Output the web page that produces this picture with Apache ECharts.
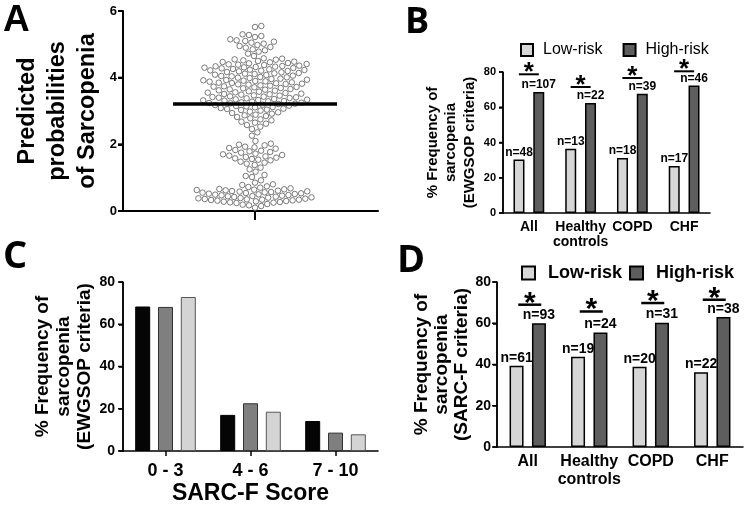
<!DOCTYPE html>
<html>
<head>
<meta charset="utf-8">
<script src="https://cdn.jsdelivr.net/npm/echarts@6.0.0/dist/echarts.min.js"></script>
<style>
  html, body { margin: 0; padding: 0; background: #fff; }
  #container { width: 749px; height: 506px; }
</style>
</head>
<body>
<div id="container"></div>
<script>
var FONT = 'Liberation Sans, Arial, sans-serif';
var LETTER_FONT = 'Open Sans, Liberation Sans, sans-serif';

// panel A: predicted probability of each subject (one dot each)
var probValues = [
  5.55, 5.52,
  5.30, 5.28, 5.25, 5.22,
  5.15, 5.12, 5.10, 5.08, 5.05, 5.02,
  4.98, 4.95, 4.92, 4.90,
  4.85, 4.82, 4.78, 4.72, 4.65,
  4.58, 4.57, 4.55, 4.54, 4.52,
  4.50, 4.48, 4.47, 4.46, 4.44, 4.43, 4.41,
  4.40, 4.39, 4.38, 4.36, 4.35, 4.34, 4.33, 4.32, 4.31,
  4.30, 4.29, 4.28, 4.26, 4.25, 4.24, 4.23, 4.22, 4.21,
  4.20, 4.19, 4.17, 4.16, 4.14, 4.13, 4.12, 4.11,
  4.09, 4.08, 4.06, 4.05, 4.04, 4.02, 4.01,
  4.00, 3.99, 3.97, 3.96, 3.94, 3.93, 3.92, 3.91,
  3.90, 3.89, 3.88, 3.86, 3.85, 3.84, 3.83, 3.82, 3.81,
  3.80, 3.79, 3.77, 3.76, 3.74, 3.73, 3.72, 3.71,
  3.69, 3.68, 3.66, 3.65, 3.64, 3.62, 3.61,
  3.59, 3.58, 3.56, 3.55, 3.54, 3.52, 3.51,
  3.50, 3.49, 3.47, 3.46, 3.44, 3.43, 3.42, 3.41,
  3.40, 3.39, 3.38, 3.36, 3.35, 3.34, 3.33, 3.32, 3.31,
  3.30, 3.29, 3.28, 3.26, 3.25, 3.24, 3.23, 3.22, 3.21,
  3.19, 3.18, 3.16, 3.15, 3.14, 3.12, 3.11,
  3.09, 3.07, 3.06, 3.04, 3.03, 3.01,
  2.98, 2.96, 2.94, 2.92,
  2.89, 2.87, 2.85, 2.82,
  2.78, 2.75, 2.72,
  2.68, 2.65, 2.62,
  2.58, 2.53, 2.46, 2.36, 2.26,
  2.10, 2.02, 1.99, 1.97, 1.93, 1.91, 1.89, 1.87, 1.83, 1.81, 1.79, 1.77,
  1.75, 1.72, 1.70, 1.68, 1.66, 1.64, 1.62, 1.60, 1.58, 1.56, 1.54, 1.52,
  1.48, 1.45, 1.42, 1.38, 1.30, 1.25, 1.18, 1.08, 1.05, 1.02,
  0.92, 0.85, 0.80, 0.78, 0.74, 0.72, 0.70, 0.68,
  0.66, 0.65, 0.64, 0.63, 0.62, 0.61, 0.60, 0.59, 0.58, 0.57,
  0.56, 0.55, 0.54, 0.53, 0.52, 0.51, 0.50, 0.49, 0.48, 0.47, 0.46, 0.45, 0.44,
  0.43, 0.42, 0.41, 0.40, 0.39, 0.38, 0.37, 0.36, 0.35, 0.34, 0.34, 0.33, 0.32,
  0.31, 0.30, 0.29, 0.28, 0.27, 0.26, 0.25, 0.24,
  0.21, 0.19, 0.17, 0.15, 0.10
];
var probMean = 3.22;
var probTicks = [0, 2, 4, 6];

// panel B: EWGSOP sarcopenia by SARC-F risk group
var groupNames = ['All', 'Healthy\ncontrols', 'COPD', 'CHF'];
var lowRiskB = [30.3, 36.5, 31.2, 26.7];
var highRiskB = [68.7, 62.4, 67.7, 72.4];
var nLowB = [48, 13, 18, 17];
var nHighB = [107, 22, 39, 46];
var sigB = [78.7, 71.5, 76.6, 80.4];
var pctTicks = [0, 20, 40, 60, 80];

// panel C: EWGSOP sarcopenia by SARC-F score
var sarcScores = ['0 - 3', '4 - 6', '7 - 10'];
var sarcBlack = [68.4, 17.1, 14.2];
var sarcGrey = [68.2, 22.6, 8.7];
var sarcLight = [72.9, 18.6, 7.9];

// panel D: SARC-F sarcopenia by risk group
var lowRiskD = [39.4, 43.8, 38.9, 36.2];
var highRiskD = [60.0, 55.5, 60.3, 63.0];
var nLowD = [61, 19, 20, 22];
var nHighD = [93, 24, 31, 38];
var sigD = [69.0, 65.7, 69.8, 71.4];

// beeswarm layout: x offset (in px) for every dot so they don't overlap
function swarm(values, pxPerUnit, d) {
  var placed = [];
  var out = [];
  var order = values.map(function (v, i) { return i; });
  order.sort(function (a, b) { return values[a] - values[b]; });
  order.forEach(function (i) {
    var y = values[i] * pxPerUnit;
    var near = placed.filter(function (p) { return Math.abs(p.y - y) < d; });
    var cands = [0];
    near.forEach(function (p) {
      var dx = Math.sqrt(d * d - (p.y - y) * (p.y - y));
      cands.push(p.x + dx, p.x - dx);
    });
    cands.sort(function (a, b) { return Math.abs(a) - Math.abs(b); });
    var x = 0;
    for (var k = 0; k < cands.length; k++) {
      var ok = near.every(function (p) {
        return (p.x - cands[k]) * (p.x - cands[k]) + (p.y - y) * (p.y - y) >= d * d - 0.01;
      });
      if (ok) { x = cands[k]; break; }
    }
    placed.push({x: x, y: y});
    out[i] = [x, values[i]];
  });
  return out;
}

function sigRenderer(halfWidth, shift, lineW, starSize, starLift) {
  return function (params, api) {
    var c = api.coord([api.value(0), api.value(1)]);
    var x = c[0] + shift;
    return {
      type: 'group',
      children: [
        {type: 'line', shape: {x1: x - halfWidth, y1: c[1], x2: x + halfWidth, y2: c[1]},
         style: {stroke: '#000', lineWidth: lineW}},
        {type: 'text', x: x, y: c[1] - starLift,
         style: {text: '*', fill: '#000', fontSize: starSize, fontWeight: 'bold', fontFamily: FONT,
                 align: 'center', verticalAlign: 'middle'}}
      ]
    };
  };
}

// y axis line + ticks, drawn through the axes (leftValue: x value of the left edge,
// or null for a category axis, where the edge is half a band left of the first category)
function yAxisLine(xIdx, yIdx, ticks, w, tickLen, leftValue) {
  return {
    type: 'custom', xAxisIndex: xIdx, yAxisIndex: yIdx, silent: true, clip: false, z: 10,
    data: ticks.map(function (t) { return [0, t]; }),
    renderItem: function (params, api) {
      var p = api.coord([api.value(0), api.value(1)]);
      var x = leftValue !== null
        ? api.coord([leftValue, api.value(1)])[0]
        : p[0] - api.size([1, 0])[0] / 2;
      var children = [
        {type: 'line', shape: {x1: x - tickLen, y1: p[1], x2: x, y2: p[1]},
         style: {stroke: '#000', lineWidth: w}}
      ];
      if (params.dataIndex === 0) {
        var yTop = api.coord([0, ticks[ticks.length - 1]])[1];
        children.push({type: 'line', shape: {x1: x, y1: yTop, x2: x, y2: p[1] + w / 2},
                       style: {stroke: '#000', lineWidth: w}});
      }
      return {type: 'group', children: children};
    }
  };
}

function nLabel(counts, size) {
  return {
    show: true, position: 'top', distance: 1,
    fontSize: size, fontWeight: 'bold', color: '#000', fontFamily: FONT,
    formatter: function (p) { return 'n=' + counts[p.dataIndex]; }
  };
}

function yAxisPct(grid, name, nameSize, lh, gap, labelSize, margin) {
  return {
    gridIndex: grid, type: 'value', min: 0, max: 80, interval: 20,
    name: name, nameLocation: 'middle', nameGap: gap,
    nameTextStyle: {fontSize: nameSize, fontWeight: 'bold', lineHeight: lh, color: '#000', fontFamily: FONT},
    axisLine: {show: true, onZero: false, lineStyle: {color: '#000', width: 1.5}},
    axisTick: {show: true, length: 4, lineStyle: {color: '#000', width: 1.5}},
    axisLabel: {fontSize: labelSize, fontWeight: 'bold', color: '#000', margin: margin, fontFamily: FONT},
    splitLine: {show: false}
  };
}

function xAxisCat(grid, data, size, lh, margin, tick) {
  return {
    gridIndex: grid, type: 'category', data: data,
    axisLine: {onZero: false, lineStyle: {color: '#000', width: 1.5}},
    axisTick: {show: tick, alignWithLabel: true, length: 5, lineStyle: {color: '#000', width: 1.5}},
    axisLabel: {fontSize: size, fontWeight: 'bold', lineHeight: lh, margin: margin, color: '#000',
                interval: 0, fontFamily: FONT}
  };
}

var dom = document.getElementById('container');
var myChart = echarts.init(dom, null, {renderer: 'canvas'});

var barBorder = {borderColor: '#000', borderWidth: 1.5};
var lowColor = '#d6d6d6';
var highColor = '#5e5e5e';

var option = {
  animation: false,
  textStyle: {fontFamily: FONT},
  graphic: [
    {type: 'text', x: 3, y: 21, style: {text: 'A', fontSize: 37, fontWeight: 'bold', fontFamily: FONT, fill: '#000', align: 'left', verticalAlign: 'middle'}},
    {type: 'text', x: 405, y: 23, style: {text: 'B', fontSize: 36, fontWeight: 'bold', fontFamily: LETTER_FONT, fill: '#000', align: 'left', verticalAlign: 'middle'}},
    {type: 'text', x: 3, y: 257, style: {text: 'C', fontSize: 38, fontWeight: 'bold', fontFamily: LETTER_FONT, fill: '#000', align: 'left', verticalAlign: 'middle'}},
    {type: 'text', x: 397, y: 261, style: {text: 'D', fontSize: 38, fontWeight: 'bold', fontFamily: LETTER_FONT, fill: '#000', align: 'left', verticalAlign: 'middle'}}
  ],
  legend: [
    {data: ['Low-risk', 'High-risk'], left: 515, top: 37, icon: 'rect', itemWidth: 12, itemHeight: 12, itemGap: 20,
     selectedMode: false, textStyle: {fontSize: 16, color: '#000', fontFamily: FONT, padding: [0, 0, 0, 5]}},
    {data: ['Low-risk', 'High-risk'], left: 516, top: 259, icon: 'rect', itemWidth: 13, itemHeight: 13, itemGap: 7,
     selectedMode: false, textStyle: {fontSize: 18, fontWeight: 'bold', color: '#000', fontFamily: FONT, padding: [0, 0, 0, 8]}}
  ],
  grid: [
    {left: 123, top: 11, width: 255, height: 200, containLabel: false, outerBoundsMode: 'none'},
    {left: 503, top: 72, width: 207, height: 141, containLabel: false, outerBoundsMode: 'none'},
    {left: 123, top: 282, width: 255, height: 169, containLabel: false, outerBoundsMode: 'none'},
    {left: 497, top: 282, width: 246, height: 165, containLabel: false, outerBoundsMode: 'none'}
  ],
  xAxis: [
    {gridIndex: 0, type: 'value', min: -132, max: 123,
     axisLine: {show: true, onZero: false, lineStyle: {color: '#000', width: 2}},
     axisTick: {show: true, customValues: [0], length: 9, lineStyle: {color: '#000', width: 2}},
     axisLabel: {show: false}, splitLine: {show: false}},
    xAxisCat(1, groupNames, 14, 15, 7, false),
    Object.assign(xAxisCat(2, sarcScores, 18, 20, 10, true), {
      name: 'SARC-F Score', nameLocation: 'middle', nameGap: 31,
      nameTextStyle: {fontSize: 23, fontWeight: 'bold', color: '#000', fontFamily: FONT}
    }),
    xAxisCat(3, groupNames, 16, 18, 6, false)
  ],
  yAxis: [
    {gridIndex: 0, type: 'value', min: 0, max: 6, interval: 2,
     name: 'Predicted\nprobabilities\nof Sarcopenia', nameLocation: 'middle', nameGap: 20,
     nameTextStyle: {fontSize: 23.5, fontWeight: 'bold', lineHeight: 30, color: '#000', fontFamily: FONT},
     axisLine: {show: true, onZero: false, lineStyle: {color: '#000', width: 2}},
     axisTick: {show: true, length: 5, lineStyle: {color: '#000', width: 2}},
     axisLabel: {fontSize: 13, fontWeight: 'bold', color: '#000', margin: 6, fontFamily: FONT},
     splitLine: {show: false}},
    yAxisPct(1, '% Frequency of\nsarcopenia\n(EWGSOP criteria)', 15, 18.5, 24, 11, 7),
    yAxisPct(2, '% Frequency of\nsarcopenia\n(EWGSOP criteria)', 19, 21, 27, 14, 8),
    yAxisPct(3, '% Frequency of\nsarcopenia\n(SARC-F criteria)', 19, 20, 24, 14, 6)
  ],
  series: [
    {type: 'scatter', xAxisIndex: 0, yAxisIndex: 0, data: swarm(probValues, 200 / 6, 6.4),
     symbol: 'circle', symbolSize: 5.5,
     itemStyle: {color: '#fff', borderColor: '#5a5a5a', borderWidth: 1},
     markLine: {silent: true, symbol: ['none', 'none'], label: {show: false},
                lineStyle: {color: '#000', width: 3.5, type: 'solid'},
                data: [[{coord: [-82, probMean]}, {coord: [82, probMean]}]]}},
    yAxisLine(0, 0, probTicks, 2, 5, -132),

    {name: 'Low-risk', type: 'bar', xAxisIndex: 1, yAxisIndex: 1, data: lowRiskB, barWidth: 11, barGap: '80%',
     itemStyle: Object.assign({color: lowColor}, barBorder), label: nLabel(nLowB, 12)},
    {name: 'High-risk', type: 'bar', xAxisIndex: 1, yAxisIndex: 1, data: highRiskB, barWidth: 11, barGap: '80%',
     itemStyle: Object.assign({color: highColor}, barBorder), label: nLabel(nHighB, 12)},
    {type: 'custom', xAxisIndex: 1, yAxisIndex: 1, renderItem: sigRenderer(10, 0, 2, 26, 1.3),
     data: sigB.map(function (v, i) { return [i, v]; }), silent: true},
    yAxisLine(1, 1, pctTicks, 1.5, 4, null),

    {type: 'bar', xAxisIndex: 2, yAxisIndex: 2, data: sarcBlack, barWidth: 15, barGap: '52%',
     itemStyle: {color: '#050505', borderColor: '#000', borderWidth: 1}},
    {type: 'bar', xAxisIndex: 2, yAxisIndex: 2, data: sarcGrey, barWidth: 15, barGap: '52%',
     itemStyle: {color: '#7f7f7f', borderColor: '#333', borderWidth: 1}},
    {type: 'bar', xAxisIndex: 2, yAxisIndex: 2, data: sarcLight, barWidth: 15, barGap: '52%',
     itemStyle: {color: '#d4d4d4', borderColor: '#555', borderWidth: 1}},
    yAxisLine(2, 2, pctTicks, 1.5, 5, null),

    {name: 'Low-risk', type: 'bar', xAxisIndex: 3, yAxisIndex: 3, data: lowRiskD, barWidth: 14, barGap: '60%',
     itemStyle: Object.assign({color: lowColor}, barBorder), label: nLabel(nLowD, 14)},
    {name: 'High-risk', type: 'bar', xAxisIndex: 3, yAxisIndex: 3, data: highRiskD, barWidth: 14, barGap: '60%',
     itemStyle: Object.assign({color: highColor}, barBorder), label: nLabel(nHighD, 14)},
    {type: 'custom', xAxisIndex: 3, yAxisIndex: 3, renderItem: sigRenderer(11.5, 2, 2.5, 30, 1.4),
     data: sigD.map(function (v, i) { return [i, v]; }), silent: true},
    yAxisLine(3, 3, pctTicks, 1.5, 5, null)
  ]
};

myChart.setOption(option);
</script>
</body>
</html>
